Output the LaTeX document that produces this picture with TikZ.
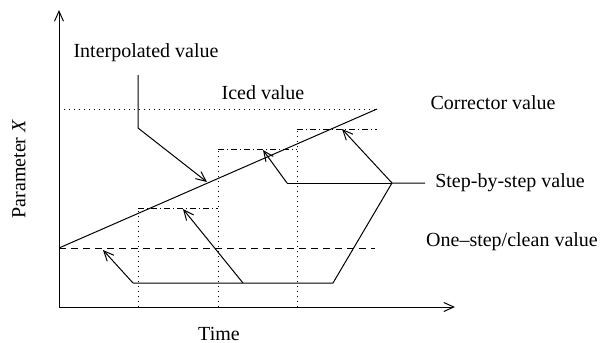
\documentclass[tikz,border=0pt]{standalone}
\usepackage{fontspec}
\setmainfont{Liberation Serif}
\usepackage{tikz}
\usetikzlibrary{arrows.meta}

\tikzset{
  barb/.style={-{Straight Barb[length=5pt,width=4.5pt]}},
  iced/.style={dotted},
  corr/.style={dash pattern=on 3pt off 1.5pt on 0.5pt off 1.5pt},
  clean/.style={dash pattern=on 3.5pt off 2.5pt},
  lbl/.style={inner sep=0.5pt}
}

\begin{document}
\begin{tikzpicture}[x=0.5pt,y=-0.5pt,line width=0.5pt]
\useasboundingbox (0,0) rectangle (601,343);
%put points
\coordinate (O) at (59,307);
\coordinate (ytop) at (59,10);
\coordinate (xend) at (455,307);
\coordinate (i0) at (59,248);
\coordinate (i1) at (377,109);
\coordinate (ic0) at (59,109);
\coordinate (cl1) at (375,248);
\coordinate (t1) at (138,307);
\coordinate (t2) at (218,307);
\coordinate (t3) at (297,307);
\coordinate (c1) at (138,208);
\coordinate (c1e) at (218,208);
\coordinate (c2) at (218,149);
\coordinate (c2e) at (297,149);
\coordinate (c3) at (297,129);
\coordinate (c3e) at (377,129);
\coordinate (s0) at (133,283);
\coordinate (s1) at (243,283);
\coordinate (s2) at (333,283);
\coordinate (s3) at (392,183);
\coordinate (s4) at (425,183);
\coordinate (s5) at (287,183);
\coordinate (a0) at (103,250);
\coordinate (a1) at (183,209);
\coordinate (a2) at (263,150);
\coordinate (a3) at (342,129);
\coordinate (l0) at (138,75);
\coordinate (l1) at (138,128);
\coordinate (l2) at (207,182);

%axes
\draw[barb] (O) to (ytop);
\draw[barb] (O) to (xend);
%iced, interpolated, clean
\draw[iced] (ic0) to (i1);
\draw[-] (i0) to (i1);
\draw[clean] (i0) to (cl1);
%time steps
\draw[iced] (t1) to (c1);
\draw[iced] (t2) to (c2);
\draw[iced] (t3) to (c3);
%corrector steps
\draw[corr] (c1) to (c1e);
\draw[corr] (c2) to (c2e);
\draw[corr] (c3) to (c3e);
%step-by-step
\draw[-] (s0) to (s2) to (s3) to (s4);
\draw[-] (s3) to (s5);
\draw[barb] (s0) to (a0);
\draw[barb] (s1) to (a1);
\draw[barb] (s5) to (a2);
\draw[barb] (s3) to (a3);
%interpolated leader
\draw[barb] (l0) to (l1) to (l2);

%labels
\node[lbl] (interp) at (146,53) {Interpolated value};
\node[lbl] (iced) at (263,93) {Iced value};
\node[lbl] (corrector) at (493,103) {Corrector value};
\node[lbl] (step) at (510,183) {Step-by-step value};
\node[lbl] (clean) at (512,242) {One--step/clean value};
\node[lbl] (time) at (219,334) {Time};
\node[lbl,rotate=90] (param) at (19,169) {Parameter \textit{X}};
\end{tikzpicture}
\end{document}
